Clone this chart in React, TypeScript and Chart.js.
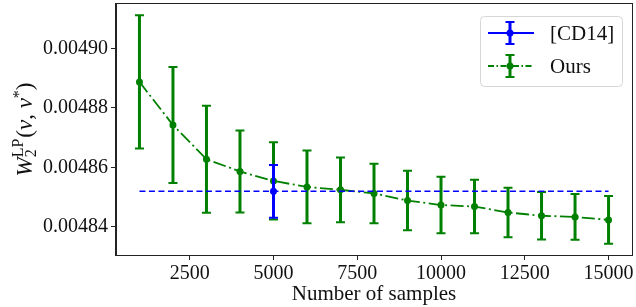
import React, { useEffect, useRef } from "react";
import { Chart, registerables } from "chart.js";
Chart.register(...registerables);

const samples = [1000, 2000, 3000, 4000, 5000, 6000, 7000, 8000, 9000, 10000, 11000, 12000, 13000, 14000, 15000];
const oursMean = [0.0048887, 0.0048742, 0.0048627, 0.0048586, 0.0048554, 0.0048534, 0.0048524, 0.0048512, 0.0048488, 0.0048473, 0.0048468, 0.0048448, 0.0048437, 0.0048433, 0.0048423];
const oursErr = [0.0000224, 0.0000195, 0.000018, 0.0000138, 0.000013, 0.0000122, 0.0000109, 0.00001, 0.00001, 0.0000095, 0.000009, 0.0000083, 0.000008, 0.0000077, 0.000008];
const cd14Samples = [5000];
const cd14Mean = [0.0048519];
const cd14Err = [0.0000089];
const cd14LineX = [1000, 15000];
const yTicks = [0.00484, 0.00486, 0.00488, 0.0049];
const xTicks = [2500, 5000, 7500, 10000, 12500, 15000];
const legendLabels = ["[CD14]", "Ours"];

const GREEN = "#008000";
const BLUE = "#0000ff";
const FONT = "'Liberation Serif', 'DejaVu Serif', serif";

const errMap: Record<number, { err: number[]; color: string }> = {
  0: { err: oursErr, color: GREEN },
  2: { err: cd14Err, color: BLUE },
};

function drawErr(ctx: CanvasRenderingContext2D, x: number, y1: number, y2: number, color: string) {
  ctx.save();
  ctx.strokeStyle = color;
  ctx.lineWidth = 3;
  ctx.beginPath();
  ctx.moveTo(x, y1);
  ctx.lineTo(x, y2);
  ctx.stroke();
  ctx.lineWidth = 2;
  ctx.beginPath();
  ctx.moveTo(x - 4.5, y1);
  ctx.lineTo(x + 4.5, y1);
  ctx.moveTo(x - 4.5, y2);
  ctx.lineTo(x + 4.5, y2);
  ctx.stroke();
  ctx.restore();
}

const customPlugin = {
  id: "custom",
  beforeDatasetDraw(chart: any, args: any) {
    const info = errMap[args.index];
    if (!info) return;
    const ctx = chart.ctx;
    const xs = chart.scales.x;
    const ys = chart.scales.y;
    const ds = chart.data.datasets[args.index];
    ds.data.forEach((p: any, i: number) => {
      const x = xs.getPixelForValue(p.x);
      drawErr(ctx, x, ys.getPixelForValue(p.y + info.err[i]), ys.getPixelForValue(p.y - info.err[i]), info.color);
    });
  },
  afterDraw(chart: any) {
    const ctx: CanvasRenderingContext2D = chart.ctx;
    const a = chart.chartArea;
    // frame
    ctx.save();
    ctx.strokeStyle = "#222";
    ctx.lineWidth = 1;
    ctx.strokeRect(Math.round(a.left) - 0.5, Math.round(a.top) - 0.5, Math.round(a.right - a.left) + 1, Math.round(a.bottom - a.top) + 1);
    ctx.restore();

    // x title
    ctx.save();
    ctx.fillStyle = "#111";
    ctx.font = `21px ${FONT}`;
    ctx.textAlign = "center";
    ctx.textBaseline = "alphabetic";
    ctx.fillText("Number of samples", (a.left + a.right) / 2, 300);
    ctx.restore();

    // y title (rotated)
    ctx.save();
    ctx.fillStyle = "#111";
    const cx = 25;
    const cy = (a.top + a.bottom) / 2;
    ctx.translate(cx, cy);
    ctx.rotate(-Math.PI / 2);
    const big = 23;
    const small = 16;
    const parts: { t: string; f: string; dy: number; stackWithPrev?: boolean }[] = [
      { t: "W", f: `italic ${big}px ${FONT}`, dy: 0 },
      { t: "2", f: `${small}px ${FONT}`, dy: 4 },
      { t: "LP", f: `${small}px ${FONT}`, dy: -9, stackWithPrev: true },
      { t: "(", f: `${big}px ${FONT}`, dy: 0 },
      { t: "ν", f: `italic ${big}px ${FONT}`, dy: 0 },
      { t: ", ", f: `${big}px ${FONT}`, dy: 0 },
      { t: "ν", f: `italic ${big}px ${FONT}`, dy: 0 },
      { t: "*", f: `${small}px ${FONT}`, dy: -8 },
      { t: ")", f: `${big}px ${FONT}`, dy: 0 },
    ];
    let total = 0;
    let prevW = 0;
    const xsPos: number[] = [];
    parts.forEach((p) => {
      ctx.font = p.f;
      const w = ctx.measureText(p.t).width;
      if (p.stackWithPrev) {
        const start = total - prevW;
        xsPos.push(start);
        total = start + Math.max(prevW, w) + 1;
      } else {
        xsPos.push(total);
        total += w;
      }
      prevW = w;
    });
    ctx.textBaseline = "alphabetic";
    ctx.textAlign = "left";
    parts.forEach((p, i) => {
      ctx.font = p.f;
      ctx.fillText(p.t, xsPos[i] - total / 2, 7 + p.dy);
    });
    ctx.restore();

    // legend
    const lx = a.right - 152;
    const ly = a.top + 12;
    const lw = 142;
    const lh = 70;
    ctx.save();
    ctx.fillStyle = "rgba(255,255,255,0.8)";
    ctx.strokeStyle = "#d6d6d6";
    ctx.lineWidth = 1;
    ctx.beginPath();
    (ctx as any).roundRect(lx + 0.5, ly + 0.5, lw, lh, 4);
    ctx.fill();
    ctx.stroke();
    const entries = [
      { label: legendLabels[0], color: BLUE, dash: [] as number[] },
      { label: legendLabels[1], color: GREEN, dash: [6, 2.5, 1.5, 2.5] },
    ];
    entries.forEach((e, i) => {
      const y = ly + 17 + i * 33;
      ctx.strokeStyle = e.color;
      ctx.lineWidth = 2;
      ctx.setLineDash(e.dash);
      ctx.beginPath();
      ctx.moveTo(lx + 8, y);
      ctx.lineTo(lx + 54, y);
      ctx.stroke();
      ctx.setLineDash([]);
      drawErr(ctx, lx + 30, y - 11, y + 11, e.color);
      ctx.fillStyle = e.color;
      ctx.beginPath();
      ctx.arc(lx + 30, y, 3.5, 0, Math.PI * 2);
      ctx.fill();
      ctx.fillStyle = "#111";
      ctx.font = `21px ${FONT}`;
      ctx.textBaseline = "middle";
      ctx.textAlign = "left";
      ctx.fillText(e.label, lx + 70, y + 1);
    });
    ctx.restore();
  },
};

export default function App() {
  const ref = useRef<HTMLCanvasElement | null>(null);
  useEffect(() => {
    document.body.style.margin = "0";
    const canvas = ref.current!;
    const chart = new Chart(canvas, {
      type: "scatter",
      data: {
        datasets: [
          {
            label: legendLabels[1],
            data: samples.map((x, i) => ({ x, y: oursMean[i] })),
            showLine: true,
            borderColor: GREEN,
            backgroundColor: GREEN,
            borderWidth: 1.8,
            borderDash: [13, 3.5, 2, 3.5],
            pointRadius: 3.5,
            pointBorderWidth: 0,
            pointBackgroundColor: GREEN,
            order: 3,
          } as any,
          {
            label: "ref",
            data: cd14LineX.map((x) => ({ x, y: cd14Mean[0] })),
            showLine: true,
            borderColor: BLUE,
            borderWidth: 1.5,
            borderDash: [6, 3.5],
            pointRadius: 0,
            order: 2,
          } as any,
          {
            label: legendLabels[0],
            data: cd14Samples.map((x, i) => ({ x, y: cd14Mean[i] })),
            borderColor: BLUE,
            backgroundColor: BLUE,
            pointRadius: 3.5,
            pointBorderWidth: 0,
            pointBackgroundColor: BLUE,
            order: 1,
          } as any,
        ],
      },
      options: {
        responsive: false,
        animation: false,
        layout: { padding: { top: 3, right: 3, left: 0, bottom: 0 } },
        plugins: { legend: { display: false }, tooltip: { enabled: false } },
        scales: {
          x: {
            type: "linear",
            min: 300,
            max: 15700,
            afterBuildTicks: (s: any) => {
              s.ticks = xTicks.map((v) => ({ value: v }));
            },
            afterFit: (s: any) => {
              s.height = 52;
              s.paddingLeft = 0;
              s.paddingRight = 0;
            },
            grid: { drawOnChartArea: false, drawTicks: true, tickLength: 5, tickColor: "#222" },
            border: { display: true, color: "#222" },
            ticks: {
              color: "#111",
              font: { family: FONT, size: 20 },
              padding: 2,
              maxRotation: 0,
              autoSkip: false,
              callback: (v: any) => String(v),
            },
          },
          y: {
            type: "linear",
            min: 0.0048305,
            max: 0.0049149,
            afterBuildTicks: (s: any) => {
              s.ticks = yTicks.map((v) => ({ value: v }));
            },
            afterFit: (s: any) => {
              s.width = 116;
              s.paddingTop = 0;
              s.paddingBottom = 0;
            },
            grid: { drawOnChartArea: false, drawTicks: true, tickLength: 5, tickColor: "#222" },
            border: { display: true, color: "#222" },
            ticks: {
              color: "#111",
              font: { family: FONT, size: 20 },
              padding: 3,
              autoSkip: false,
              callback: (v: any) => Number(v).toFixed(5),
            },
          },
        },
      },
      plugins: [customPlugin],
    });
    return () => chart.destroy();
  }, []);
  return (
    <div style={{ width: 636, height: 307 }}>
      <canvas ref={ref} width={636} height={307} style={{ display: "block" }} />
    </div>
  );
}
